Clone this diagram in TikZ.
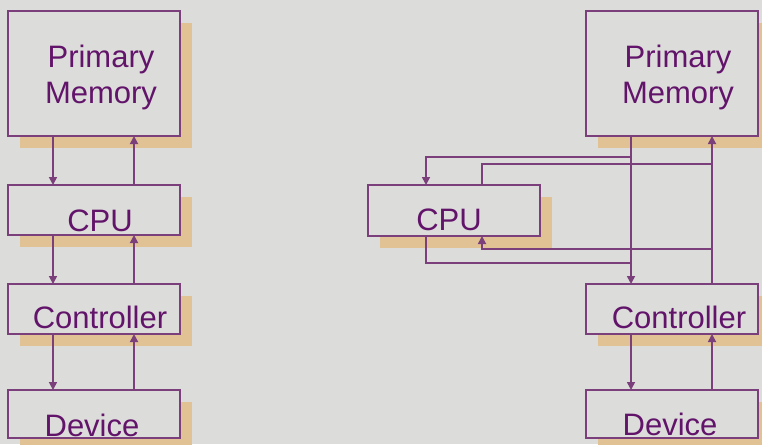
\documentclass[tikz,border=0pt]{standalone}
\usepackage{fontspec}
\setmainfont{Liberation Sans}
\usetikzlibrary{arrows.meta,shadows}
\definecolor{bg}{HTML}{DCDCDA}
\definecolor{shade}{HTML}{E0C295}
\definecolor{ln}{HTML}{7B3F7B}
\definecolor{tx}{HTML}{62146A}
\begin{document}
\begin{tikzpicture}[x=1pt,y=-1pt,
  box/.style={draw=ln, line width=1.8pt, fill=bg, inner sep=0pt, outer sep=0pt, anchor=north west,
    minimum width=172pt,
    drop shadow={shadow xshift=12pt, shadow yshift=-12pt, fill=shade, opacity=1}},
  lbl/.style={text=tx, font=\fontsize{31}{36}\selectfont, anchor=base, inner sep=0pt, align=center},
  conn/.style={draw=ln, line width=1.7pt},
  arr/.style={conn, -{Triangle[length=8pt,width=8pt]}}]
\fill[bg] (0,0) rectangle (762,444);
\useasboundingbox (0,0) rectangle (762,444);
% left column
\node[box, minimum height=125pt] (pm1) at (8,11) {};
\node[box, minimum height=50pt] (cpu1) at (8,185) {};
\node[box, minimum height=50pt] (ct1) at (8,284) {};
\node[box, minimum height=48pt] (dv1) at (8,390) {};
\node[lbl] (pm1t) at (101,103) {Primary\\Memory};
\node[lbl] (cpu1t) at (100,231) {CPU};
\node[lbl] (ct1t) at (100,328) {Controller};
\node[lbl] (dv1t) at (92,436) {Device};
\draw[arr] ([xshift=45pt]pm1.south west) -- ([xshift=45pt]cpu1.north west);
\draw[arr] ([xshift=126pt]cpu1.north west) -- ([xshift=126pt]pm1.south west);
\draw[arr] ([xshift=45pt]cpu1.south west) -- ([xshift=45pt]ct1.north west);
\draw[arr] ([xshift=126pt]ct1.north west) -- ([xshift=126pt]cpu1.south west);
\draw[arr] ([xshift=45pt]ct1.south west) -- ([xshift=45pt]dv1.north west);
\draw[arr] ([xshift=126pt]dv1.north west) -- ([xshift=126pt]ct1.south west);
% right column
\node[box, minimum height=125pt] (pm2) at (586,11) {};
\node[box, minimum height=51pt] (cpu2) at (368,185) {};
\node[box, minimum height=50pt] (ct2) at (586,284) {};
\node[box, minimum height=48pt] (dv2) at (586,390) {};
\node[lbl] (pm2t) at (678,103) {Primary\\Memory};
\node[lbl] (cpu2t) at (449,230) {CPU};
\node[lbl] (ct2t) at (679,328) {Controller};
\node[lbl] (dv2t) at (670,435) {Device};
\coordinate (j1) at (631,157);
\coordinate (j2) at (712,164);
\coordinate (j3) at (712,249);
\coordinate (j4) at (631,263);
\draw[arr] ([xshift=45pt]pm2.south west) -- ([xshift=45pt]ct2.north west);
\draw[arr] ([xshift=126pt]ct2.north west) -- ([xshift=126pt]pm2.south west);
\draw[arr] (j1) -| ([xshift=58pt]cpu2.north west);
\draw[conn] ([xshift=114pt]cpu2.north west) |- (j2);
\draw[arr] (j3) -| ([xshift=114pt]cpu2.south west);
\draw[conn] ([xshift=58pt]cpu2.south west) |- (j4);
\draw[arr] ([xshift=45pt]ct2.south west) -- ([xshift=45pt]dv2.north west);
\draw[arr] ([xshift=126pt]dv2.north west) -- ([xshift=126pt]ct2.south west);
\end{tikzpicture}
\end{document}
